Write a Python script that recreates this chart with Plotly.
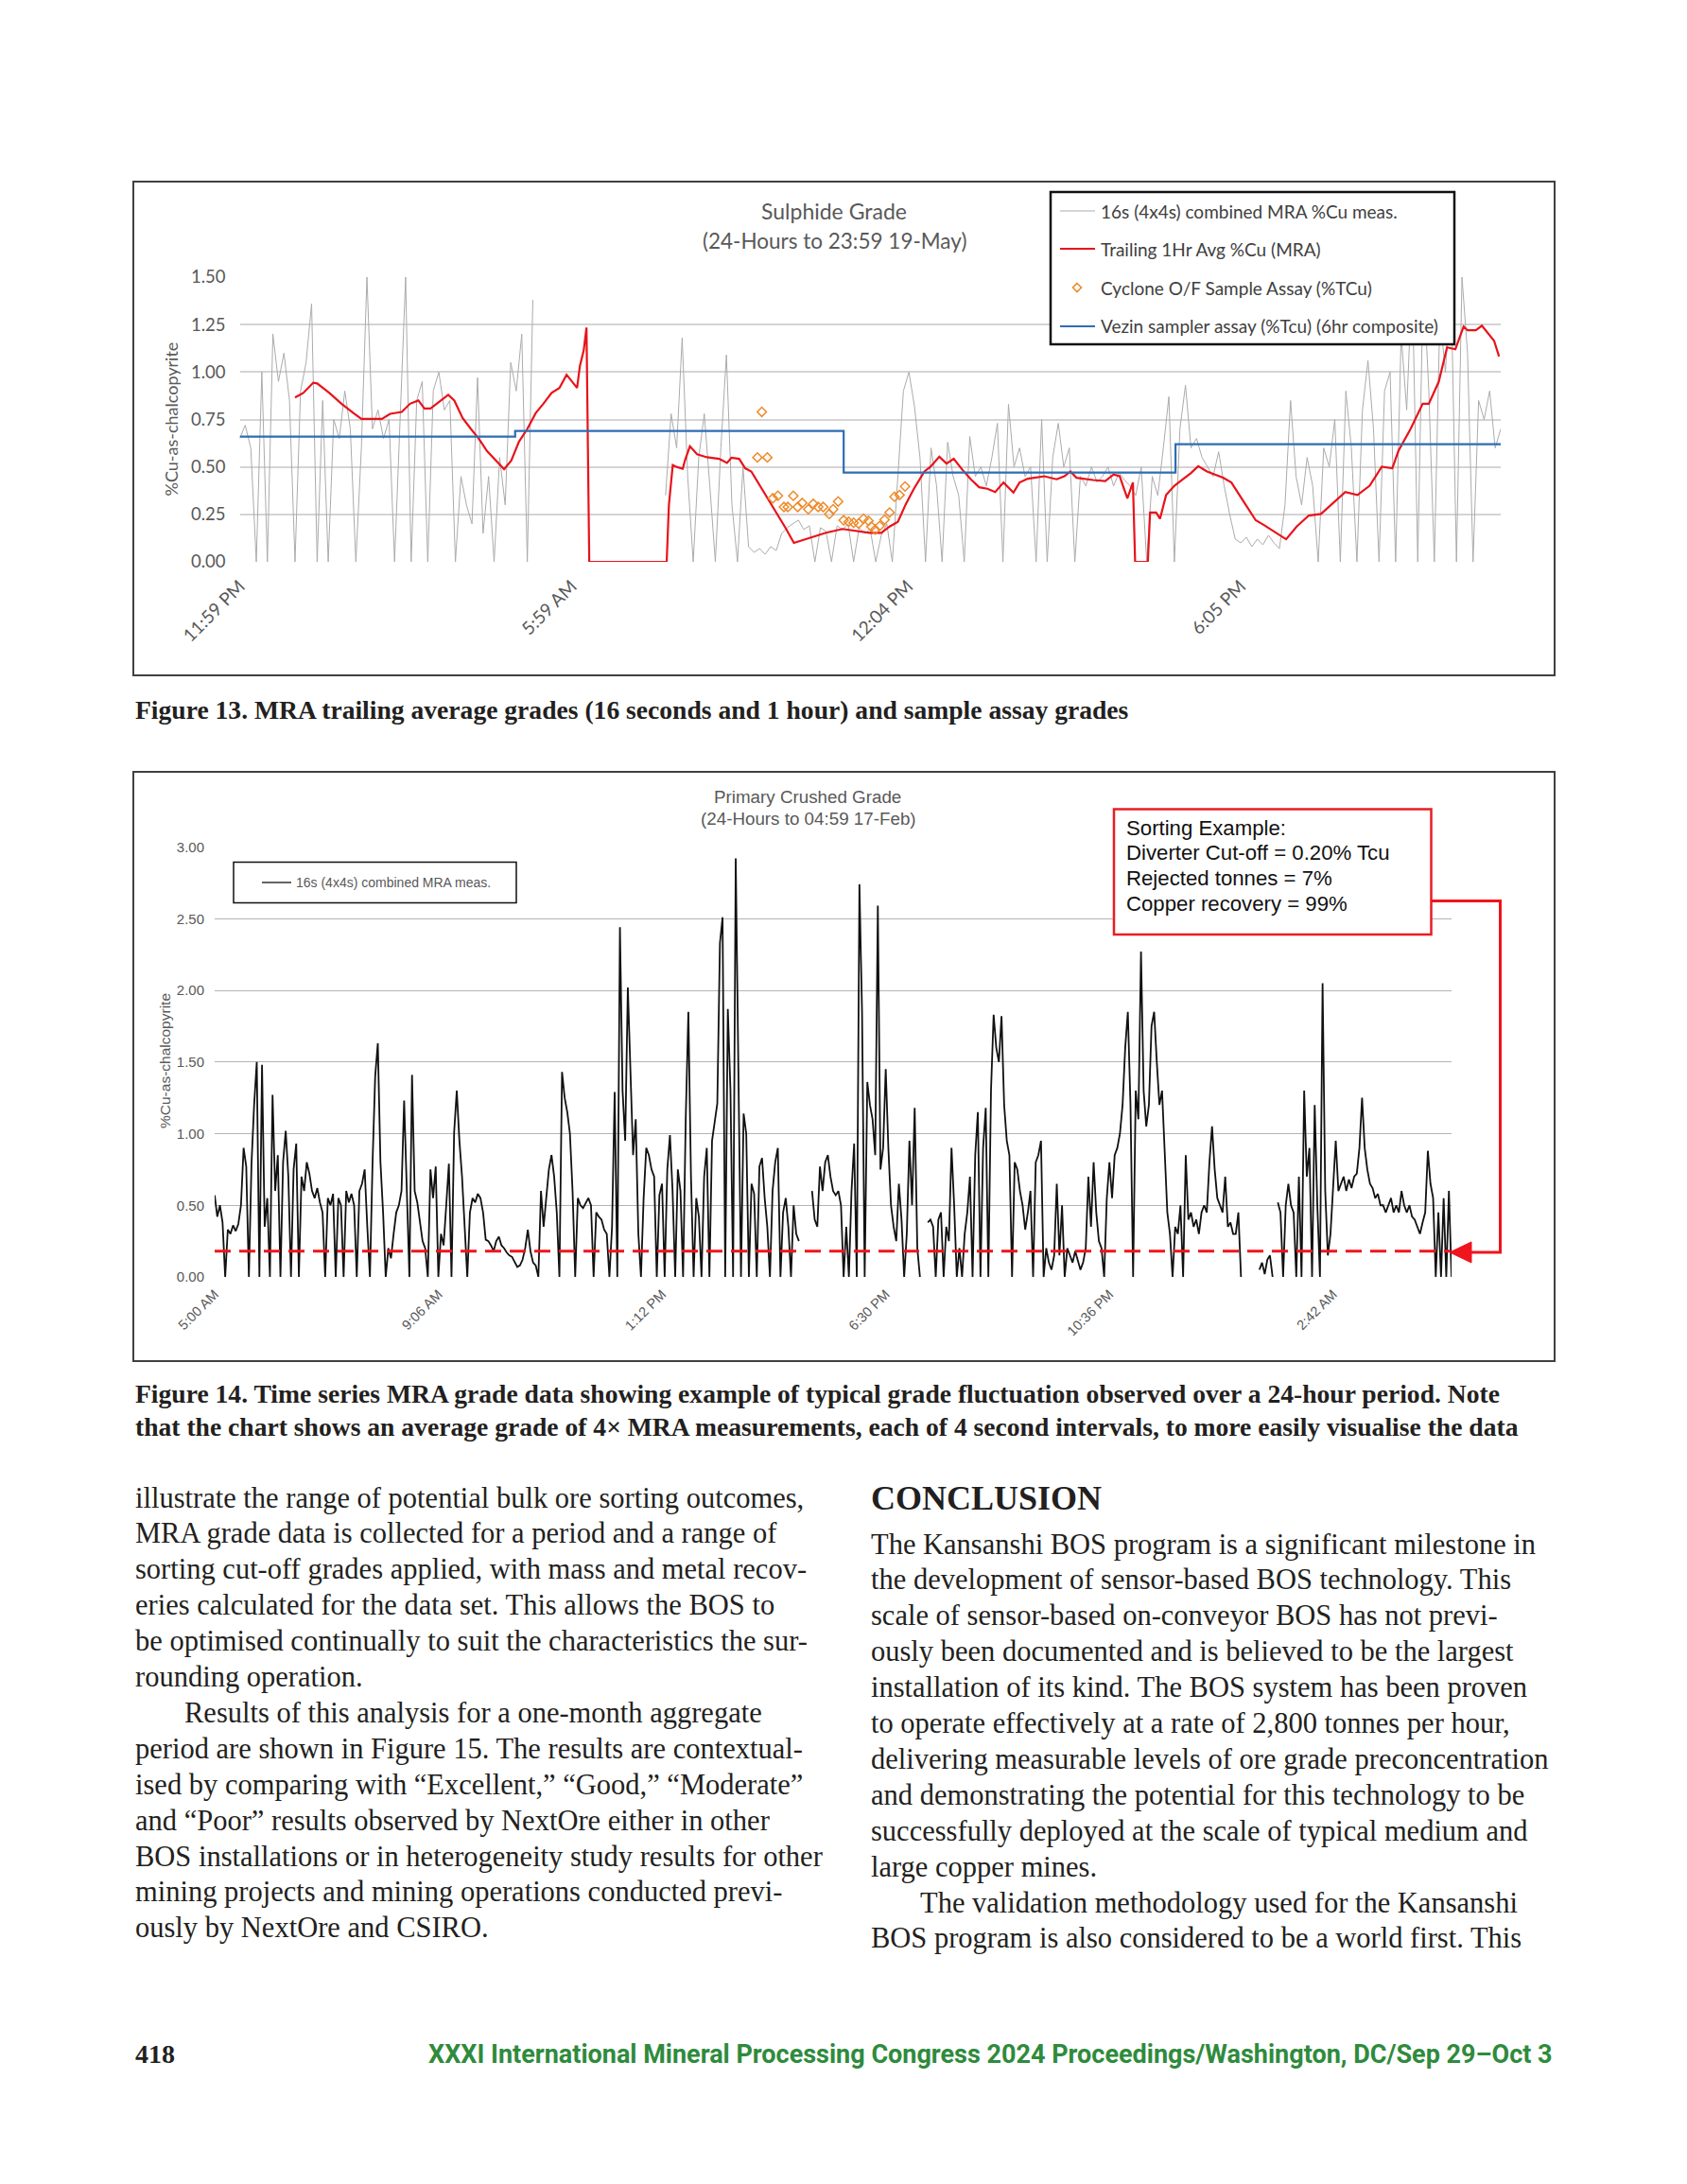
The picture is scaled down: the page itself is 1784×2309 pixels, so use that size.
import plotly.graph_objects as go

# ======================= DATA : Figure 13 (Sulphide Grade) =======================
C1_T0 = 0.0   # hours after 11:59 PM
C1_DT = 0.1   # hours between the plotted 16 s MRA readings
c1_mra = [
    0.65, 0.72, 0.6, 0, 1.0, 0, 1.2, 0.95, 1.1, 0.85,
    0, 0.9, 1.05, 1.36, 0, 0.85, 0, 0.75, 0.65, 0.9,
    0.7, 0, 0.6, 1.5, 0.7, 0.8, 0.65, 0.75, 0, 0.8,
    1.5, 0, 0.85, 0.95, 0, 0.9, 1.0, 0.8, 0.85, 0,
    0.45, 0.3, 0.2, 0.97, 0.15, 0.45, 0, 0.55, 0.3, 1.05,
    0.9, 1.2, 0, 1.38, None, None, None, None, None, None,
    None, None, None, None, None, None, None, None, None, None,
    None, None, None, None, None, None, None, 0.35, 0.78, 0.6,
    1.18, 0.45, 0, 0.55, 0.78, 0.4, 0, 0.6, 1.09, 0.3,
    0, 0.5, 0.08, 0.05, 0.07, 0.04, 0.08, 0.06, 0.15, 0.18,
    0.2, 0.22, 0.17, 0.19, 0, 0.18, 0.16, 0, 0.19, 0.17,
    0.2, 0, 0.18, 0.15, 0.17, 0, 0.14, 0.2, 0, 0.45,
    0.9, 1.0, 0.82, 0.55, 0, 0.6, 0.4, 0, 0.63, 0.45,
    0.35, 0, 0.66, 0.45, 0.5, 0.4, 0.55, 0.73, 0, 0.83,
    0.5, 0.6, 0.45, 0.5, 0, 0.75, 0, 0.55, 0.73, 0.5,
    0.6, 0, 0.45, 0.4, 0.5, 0.42, 0.45, 0.5, 0.4, 0.47,
    0.43, 0.4, 0.35, 0.5, 0, 0.45, 0.35, 0.6, 0.87, 0,
    0.7, 0.93, 0.6, 0.65, 0.55, 0.5, 0.45, 0.58, 0.4, 0.25,
    0.12, 0.1, 0.13, 0.08, 0.12, 0.09, 0.14, 0.1, 0.07, 0.3,
    0.85, 0.45, 0.3, 0.55, 0.4, 0, 0.6, 0.5, 0.75, 0,
    0.9, 0.6, 0, 0.8, 1.06, 0.7, 0, 0.9, 1.0, 0,
    1.2, 0.8, 1.5, 0, 1.5, 0.9, 0, 1.3, 1.0, 1.5,
    0, 1.5, 1.1, 0, 0.85, 0.75, 0.9, 0.6, 0.7,
]
c1_avg_t = [
    1.00, 1.15, 1.33, 1.40, 1.62, 1.84, 2.06, 2.20, 2.57, 2.72, 2.93, 3.08, 3.23, 3.34,
    3.45, 3.59, 3.77, 3.88, 4.03, 4.18, 4.32, 4.47, 4.61, 4.78, 4.91, 5.05, 5.20, 5.35,
    5.49, 5.64, 5.78, 5.91, 6.10, 6.15, 6.22, 6.27, 6.32, 7.72, 7.76, 7.83, 7.90, 8.01,
    8.05, 8.14, 8.27, 8.45, 8.67, 8.81, 8.89, 9.03, 9.14, 9.25, 9.44, 9.65, 9.87, 10.02,
    10.31, 10.60, 10.90, 11.19, 11.39, 11.60, 11.75, 11.90, 12.04, 12.19, 12.38, 12.49,
    12.65, 12.78, 12.91, 13.07, 13.22, 13.37, 13.52, 13.66, 13.81, 13.99, 14.10, 14.25,
    14.55, 14.77, 14.91, 15.02, 15.13, 15.43, 15.65, 15.80, 15.91, 16.05, 16.15, 16.19,
    16.42, 16.46, 16.57, 16.64, 16.75, 16.90, 17.05, 17.20, 17.33, 17.49, 17.78, 17.93,
    18.15, 18.37, 18.52, 18.74, 18.92, 19.11, 19.33, 19.55, 19.77, 19.99, 20.21, 20.43,
    20.65, 20.84, 20.95, 21.17, 21.39, 21.50, 21.68, 21.83, 21.98, 22.13, 22.20, 22.35,
    22.46, 22.57, 22.68, 22.77,
]
c1_avg = [
    0.866, 0.89, 0.944, 0.94, 0.89, 0.833, 0.783, 0.753, 0.753, 0.78, 0.79, 0.833, 0.85, 0.808,
    0.808, 0.84, 0.88, 0.85, 0.758, 0.70, 0.65, 0.584, 0.543, 0.488, 0.534, 0.634, 0.70, 0.783,
    0.833, 0.89, 0.916, 0.986, 0.916, 1.03, 1.115, 1.234, 0.0, 0.0, 0.30, 0.51, 0.50, 0.49,
    0.534, 0.609, 0.567, 0.551, 0.543, 0.521, 0.548, 0.543, 0.493, 0.476, 0.385, 0.285, 0.178, 0.10,
    0.128, 0.153, 0.173, 0.161, 0.153, 0.153, 0.186, 0.211, 0.302, 0.385, 0.476, 0.501,
    0.554, 0.518, 0.543, 0.484, 0.435, 0.393, 0.385, 0.368, 0.418, 0.365, 0.418, 0.438,
    0.451, 0.435, 0.451, 0.476, 0.443, 0.431, 0.426, 0.46, 0.451, 0.335, 0.418, 0.0,
    0.0, 0.26, 0.26, 0.227, 0.352, 0.401, 0.435, 0.468, 0.504, 0.476, 0.443, 0.418,
    0.318, 0.219, 0.194, 0.153, 0.119, 0.186, 0.244, 0.252, 0.31, 0.368, 0.352, 0.401,
    0.501, 0.493, 0.584, 0.70, 0.833, 0.833, 0.949, 1.13, 1.12, 1.24, 1.22, 1.22,
    1.244, 1.206, 1.165, 1.082,
]
c1_cyc_t = [
    9.36, 9.44, 9.54, 9.64, 9.73, 9.84, 9.91, 10.01, 10.09, 10.17, 10.28, 10.37, 10.46,
    10.55, 10.66, 10.73, 10.82, 10.92, 11.01, 11.10, 11.19, 11.28, 11.37, 11.42, 11.49,
    11.57, 11.66, 11.75, 11.84, 11.93, 12.03,
]
c1_cyc = [
    0.55, 0.79, 0.55, 0.335, 0.348, 0.289, 0.289, 0.348, 0.289, 0.31, 0.277, 0.305, 0.289,
    0.289, 0.252, 0.277, 0.318, 0.219, 0.211, 0.206, 0.202, 0.227, 0.216, 0.186, 0.17,
    0.189, 0.222, 0.26, 0.343, 0.352, 0.397,
]
c1_vez_t = [0.0, 4.98, 10.92, 16.92, 22.8]
c1_vez = [0.66, 0.69, 0.47, 0.62, 0.62]
c1_tick_t = [0.0, 6.0, 12.08, 18.1]
c1_tick_lbl = ["11:59 PM", "5:59 AM", "12:04 PM", "6:05 PM"]
c1_y_ticks = [0, 0.25, 0.5, 0.75, 1.0, 1.25, 1.5]
c1_names = ["16s (4x4s) combined MRA %Cu meas.", "Trailing 1Hr Avg %Cu (MRA)",
            "Cyclone O/F Sample Assay (%TCu)", "Vezin sampler assay (%Tcu) (6hr composite)"]

# ======================= DATA : Figure 14 (Primary Crushed Grade) =======================
c2_mra = [
    0.57, 0.42, 0.5, 0.38, 0, 0.33, 0.30, 0.36, 0.32, 0.37,
    0.5, 0.9, 0.77, 0, 0.79, 1.2, 1.5, 0, 1.48, 0.35,
    0.55, 0, 1.27, 0.6, 0.85, 0, 0.8, 1.02, 0.7, 0,
    0.75, 0.93, 0, 0.7, 0.6, 0.8, 0.72, 0.6, 0.55, 0.62,
    0.52, 0.45, 0, 0.55, 0.5, 0.58, 0, 0.55, 0.5, 0,
    0.6, 0.52, 0.58, 0.5, 0, 0.6, 0.65, 0.75, 0.35, 0,
    0.8, 1.4, 1.63, 0.8, 0.45, 0, 0.2, 0.13, 0.3, 0.45,
    0.5, 0.6, 1.23, 0.55, 0, 1.41, 0.6, 0.52, 0.4, 0.25,
    0.2, 0, 0.75, 0.55, 0.77, 0, 0.3, 0.22, 0.5, 0.79,
    0, 1.01, 1.3, 0.95, 0.7, 0.35, 0, 0.45, 0.55, 0.52,
    0.58, 0.55, 0.45, 0.26, 0.25, 0.22, 0.18, 0.25, 0.28, 0.22,
    0.2, 0.17, 0.15, 0.14, 0.1, 0.07, 0.08, 0.12, 0.2, 0.33,
    0.18, 0.1, 0.08, 0, 0.6, 0.35, 0.55, 0.75, 0.85, 0.7,
    0.45, 0, 1.43, 1.25, 1.15, 1.0, 0.6, 0, 0.55, 0.5,
    0.48, 0.52, 0.55, 0.5, 0, 0.45, 0.42, 0.4, 0.33, 0.3,
    0, 0.35, 1.29, 0, 2.44, 1.3, 0.95, 2.02, 1.5, 0.85,
    1.1, 0.3, 0, 0.55, 0.9, 0.85, 0.75, 0.7, 0, 0.57,
    0.65, 0, 0.75, 0.99, 0.6, 0, 0.75, 0.6, 0, 1.1,
    1.85, 0.7, 0, 0.55, 0.42, 0, 0.7, 0.9, 0, 0.95,
    1.08, 1.21, 2.33, 2.51, 0, 1.87, 1.3, 0, 2.92, 1.6,
    0, 1.14, 1.0, 0, 0.65, 0.58, 0, 0.77, 0.83, 0.55,
    0.35, 0, 0.6, 0.8, 0.9, 0, 0.45, 0.55, 0.35, 0,
    0.5, 0.3, 0.25, None, None, None, None, 0.6, 0.4, 0.35,
    0.77, 0.6, 0.8, 0.85, 0.7, 0.6, 0.57, 0.6, 0.5, 0,
    0.35, 0, 0.6, 0.93, 0, 2.74, 1.85, 0, 1.36, 1.2,
    1.1, 0.85, 2.59, 0.75, 0.9, 1.45, 0.9, 0.5, 0.35, 0.25,
    0.65, 0.4, 0, 0.3, 0.95, 0.5, 1.18, 0.2, 0, None,
    None, 0.38, 0.4, 0.35, 0, 0.4, 0.45, 0, 0.35, 0.25,
    0.9, 0.5, 0, 0.2, 0, 0.3, 0.45, 0.7, 0, 0.85,
    1.15, 0, 0.9, 1.18, 0, 1.3, 1.83, 1.6, 1.5, 1.82,
    1.2, 0.95, 0.85, 0, 0.8, 0.75, 0.6, 0.5, 0.33, 0.45,
    0.6, 0, 0.8, 0.85, 0.95, 0, 0.2, 0.1, 0.05, 0.15,
    0.65, 0.15, 0.5, 0, 0.2, 0.15, 0.1, 0.18, 0.12, 0.05,
    0.1, 0.2, 0.7, 0.35, 0.8, 0.45, 0.25, 0.2, 0, 0.55,
    0.8, 0.55, 0.85, 0.9, 1.0, 1.2, 1.6, 1.85, 1.2, 0,
    1.3, 1.1, 2.27, 1.3, 1.05, 1.2, 1.75, 1.85, 1.5, 1.2,
    1.3, 0.9, 0.45, 0.3, 0, 0.35, 0.3, 0.5, 0, 0.85,
    0.4, 0.45, 0.35, 0.4, 0.3, 0.45, 0.5, 0.45, 0.8, 1.05,
    0.75, 0.55, 0.5, 0.45, 0.7, 0.35, 0.38, 0.3, 0.3, 0.45,
    0, None, None, None, None, None, None, 0.05, 0.1, 0.02,
    0.12, 0.15, 0, None, 0.52, 0.45, 0, 0.5, 0.65, 0.5,
    0.45, 0, 0.7, 0, 1.3, 0.7, 0.9, 0, 1.2, 0.5,
    0, 2.05, 0.6, 0.15, 0.3, 0.6, 0.95, 0.6, 0.65, 0.7,
    0.6, 0.68, 0.62, 0.7, 0.72, 0.9, 1.25, 0.9, 0.75, 0.65,
    0.62, 0.55, 0.58, 0.5, 0.5, 0.45, 0.5, 0.55, 0.45, 0.5,
    0.45, 0.6, 0.5, 0.45, 0.5, 0.42, 0.4, 0.35, 0.3, 0.38,
    0.45, 0.88, 0.65, 0.55, 0, 0.45, 0, 0.55, 0, 0.6,
    0,
]
c2_tick_idx = [0, 85, 170, 255, 340, 425]
c2_tick_lbl = ["5:00 AM", "9:06 AM", "1:12 PM", "6:30 PM", "10:36 PM", "2:42 AM"]
c2_y_ticks = [0, 0.5, 1.0, 1.5, 2.0, 2.5, 3.0]
c2_cutoff = 0.18
c2_name = "16s (4x4s) combined MRA meas."
c2_box_lines = ["Sorting Example:", "Diverter Cut-off = 0.20% Tcu",
                "Rejected tonnes = 7%", "Copper recovery = 99%"]

# ======================= PAGE TEXT =======================
fig13_caption = "Figure 13. MRA trailing average grades (16 seconds and 1 hour) and sample assay grades"
fig14_caption = [
    "Figure 14. Time series MRA grade data showing example of typical grade fluctuation observed over a 24-hour period. Note",
    "that the chart shows an average grade of 4× MRA measurements, each of 4 second intervals, to more easily visualise the data",
]
left_col = [
    "illustrate the range of potential bulk ore sorting outcomes,",
    "MRA grade data is collected for a period and a range of",
    "sorting cut-off grades applied, with mass and metal recov-",
    "eries calculated for the data set. This allows the BOS to",
    "be optimised continually to suit the characteristics the sur-",
    "rounding operation.",
    "Results of this analysis for a one-month aggregate",
    "period are shown in Figure 15. The results are contextual-",
    "ised by comparing with “Excellent,” “Good,” “Moderate”",
    "and “Poor” results observed by NextOre either in other",
    "BOS installations or in heterogeneity study results for other",
    "mining projects and mining operations conducted previ-",
    "ously by NextOre and CSIRO.",
]
left_indent = [6]
right_head = "CONCLUSION"
right_col = [
    "The Kansanshi BOS program is a significant milestone in",
    "the development of sensor-based BOS technology. This",
    "scale of sensor-based on-conveyor BOS has not previ-",
    "ously been documented and is believed to be the largest",
    "installation of its kind. The BOS system has been proven",
    "to operate effectively at a rate of 2,800 tonnes per hour,",
    "delivering measurable levels of ore grade preconcentration",
    "and demonstrating the potential for this technology to be",
    "successfully deployed at the scale of typical medium and",
    "large copper mines.",
    "The validation methodology used for the Kansanshi",
    "BOS program is also considered to be a world first. This",
]
right_indent = [10]
page_no = "418"
footer = "XXXI International Mineral Processing Congress 2024 Proceedings/Washington, DC/Sep 29–Oct 3"

# ======================= LAYOUT HELPERS =======================
OFF = 8                       # default body margin of the html page
FW, FH = 1784 - 2 * OFF, 2309 - 2 * OFF


def X(px):
    return (px - OFF) / FW


def Y(py):
    return 1 - (py - OFF) / FH


CAL = "Lato, 'Open Sans', sans-serif"
ARI = "'Liberation Sans', Arial, sans-serif"
SER = "'Liberation Serif', 'Times New Roman', serif"
SANSB = "Roboto, 'Liberation Sans', sans-serif"

annotations = []
shapes = []


def txt(x, y, s, size, family, color, anchor="left", angle=0):
    annotations.append(dict(x=X(x), y=Y(y), xref="paper", yref="paper", text=s,
                            showarrow=False, xanchor=anchor, yanchor="middle",
                            textangle=angle, font=dict(size=size, family=family, color=color)))


def rect(x0, y0, x1, y1, color, width, fill="rgba(0,0,0,0)"):
    shapes.append(dict(type="rect", xref="paper", yref="paper", x0=X(x0), x1=X(x1),
                       y0=Y(y1), y1=Y(y0), line=dict(color=color, width=width),
                       fillcolor=fill, layer="above"))


def path(points, color, width, fill=None, close=False):
    d = "M " + " L ".join(f"{X(px):.6f},{Y(py):.6f}" for px, py in points)
    if close:
        d += " Z"
    shapes.append(dict(type="path", xref="paper", yref="paper", path=d,
                       line=dict(color=color, width=width),
                       fillcolor=fill if fill else "rgba(0,0,0,0)", layer="above"))


# ======================= TRACES =======================
fig = go.Figure()
c1_x = [C1_T0 + i * C1_DT for i in range(len(c1_mra))]
fig.add_trace(go.Scatter(x=c1_x, y=c1_mra, mode="lines", name=c1_names[0], connectgaps=False,
                         line=dict(color="#ababab", width=1), xaxis="x", yaxis="y"))
fig.add_trace(go.Scatter(x=c1_avg_t, y=c1_avg, mode="lines", name=c1_names[1],
                         line=dict(color="#e8131b", width=2.2), xaxis="x", yaxis="y"))
fig.add_trace(go.Scatter(x=c1_cyc_t, y=c1_cyc, mode="markers", name=c1_names[2],
                         marker=dict(symbol="diamond-open", size=7.5, color="#ee8a2a",
                                     line=dict(width=1.5, color="#ee8a2a")),
                         xaxis="x", yaxis="y"))
fig.add_trace(go.Scatter(x=c1_vez_t, y=c1_vez, mode="lines", name=c1_names[3], line_shape="hv",
                         line=dict(color="#2e6db3", width=2.2), xaxis="x", yaxis="y"))

c2_x = list(range(len(c2_mra)))
fig.add_trace(go.Scatter(x=c2_x, y=c2_mra, mode="lines", name=c2_name, connectgaps=False,
                         line=dict(color="#111111", width=1.8), xaxis="x2", yaxis="y2"))
fig.add_trace(go.Scatter(x=[0, len(c2_mra) - 1.5], y=[c2_cutoff, c2_cutoff], mode="lines",
                         name="cut-off", line=dict(color="#f0141c", width=3, dash="17px,9px"),
                         xaxis="x2", yaxis="y2"))

# ======================= CHART FRAMES / LEGENDS =======================
rect(141, 192, 1644, 714, "#404040", 2)
txt(882, 223, "Sulphide Grade", 23, CAL, "#595959", anchor="center")
txt(882, 254.5, "(24-Hours to 23:59 19-May)", 22.5, CAL, "#595959", anchor="center")
txt(180, 443.5, "%Cu-as-chalcopyrite", 18, CAL, "#595959", anchor="center", angle=-90)
rect(1111, 203, 1538, 364, "#111111", 2.5, fill="white")
leg_y = [223, 263, 304, 345]
path([(1121, leg_y[0]), (1158, leg_y[0])], "#ababab", 1)
path([(1121, leg_y[1]), (1158, leg_y[1])], "#e8131b", 2.2)
path([(1139, leg_y[2] - 4.5), (1143.5, leg_y[2]), (1139, leg_y[2] + 4.5), (1134.5, leg_y[2])],
     "#ee8a2a", 1.6, close=True)
path([(1121, leg_y[3]), (1158, leg_y[3])], "#2e6db3", 2.2)
for yy, nm in zip(leg_y, c1_names):
    txt(1162, yy, nm, 19, CAL, "#404040")

rect(141, 816, 1644, 1439, "#404040", 2)
txt(854, 843, "Primary Crushed Grade", 18.8, ARI, "#595959", anchor="center")
txt(855, 865.5, "(24-Hours to 04:59 17-Feb)", 18.8, ARI, "#595959", anchor="center")
txt(174, 1122, "%Cu-as-chalcopyrite", 15.5, ARI, "#595959", anchor="center", angle=-90)
rect(247, 911.5, 546, 954.5, "#111111", 1.5, fill="white")
path([(277, 933), (308, 933)], "#111111", 1.3)
txt(311, 933, c2_name, 14, ARI, "#595959")
rect(1178, 855.5, 1513.5, 988, "#ea1c24", 2.5, fill="white")
for k, s in enumerate(c2_box_lines):
    txt(1189, 875 + 26.7 * k, s, 22.2, ARI, "#111111")
path([(1513.5, 952.5), (1586.5, 952.5), (1586.5, 1324), (1550, 1324)], "#f0141c", 3)
path([(1533, 1324), (1556, 1313), (1556, 1335)], "#f0141c", 1, fill="#f0141c", close=True)

# ======================= PAGE TEXT =======================
txt(141, 750, f"<b>{fig13_caption}</b>", 27.6, SER, "#231f20")
txt(141, 1473, f"<b>{fig14_caption[0]}</b>", 27.6, SER, "#231f20")
txt(141, 1508.5, f"<b>{fig14_caption[1]}</b>", 27.6, SER, "#231f20")
for k, s in enumerate(left_col):
    txt(193 if k in left_indent else 141, 1583.5 + 37.9 * k, s, 30.5, SER, "#231f20")
txt(919, 1584, f"<b>{right_head}</b>", 36, SER, "#231f20")
for k, s in enumerate(right_col):
    txt(971 if k in right_indent else 919, 1632.5 + 37.9 * k, s, 30.5, SER, "#231f20")
txt(141, 2171.5, f"<b>{page_no}</b>", 28, SER, "#231f20")
txt(1644, 2171.5, f"<b>{footer}</b>", 27, SANSB, "#2e8b3c", anchor="right")

# ======================= AXES =======================
fig.update_layout(
    template="none",
    width=FW, height=FH, margin=dict(l=0, r=0, t=0, b=0, pad=0, autoexpand=False),
    paper_bgcolor="white", plot_bgcolor="white", showlegend=False,
    xaxis=dict(domain=[X(253.5), X(1587)], range=[0, 22.8], anchor="y", automargin=False,
               tickmode="array", tickvals=c1_tick_t, ticktext=c1_tick_lbl, tickangle=-45,
               showgrid=False, zeroline=False, showline=False, ticks="",
               tickfont=dict(family=CAL, size=19, color="#595959"), ticklabelstandoff=10),
    yaxis=dict(domain=[Y(594), Y(293)], range=[0, 1.5], anchor="x", automargin=False,
               tickmode="array", tickvals=c1_y_ticks, tickformat=".2f",
               showgrid=True, gridcolor="#d4d4d4", gridwidth=2, zeroline=False, showline=False,
               ticks="", tickfont=dict(family=CAL, size=18.5, color="#595959"), ticklabelstandoff=14),
    xaxis2=dict(domain=[X(227), X(1535)], range=[0, 470], anchor="y2", automargin=False,
                tickmode="array", tickvals=c2_tick_idx, ticktext=c2_tick_lbl, tickangle=-45,
                showgrid=False, zeroline=False, showline=False, ticks="",
                tickfont=dict(family=ARI, size=14.5, color="#595959"), ticklabelstandoff=6),
    yaxis2=dict(domain=[Y(1350), Y(895.5)], range=[0, 3.0], anchor="x2", automargin=False,
                tickmode="array", tickvals=c2_y_ticks, tickformat=".2f",
                showgrid=True, gridcolor="#b4b4b4", gridwidth=1.2, zeroline=False, showline=False,
                ticks="", tickfont=dict(family=ARI, size=15, color="#595959"), ticklabelstandoff=10),
    annotations=annotations, shapes=shapes,
)

fig.write_html("out.html", config={"displayModeBar": False})
